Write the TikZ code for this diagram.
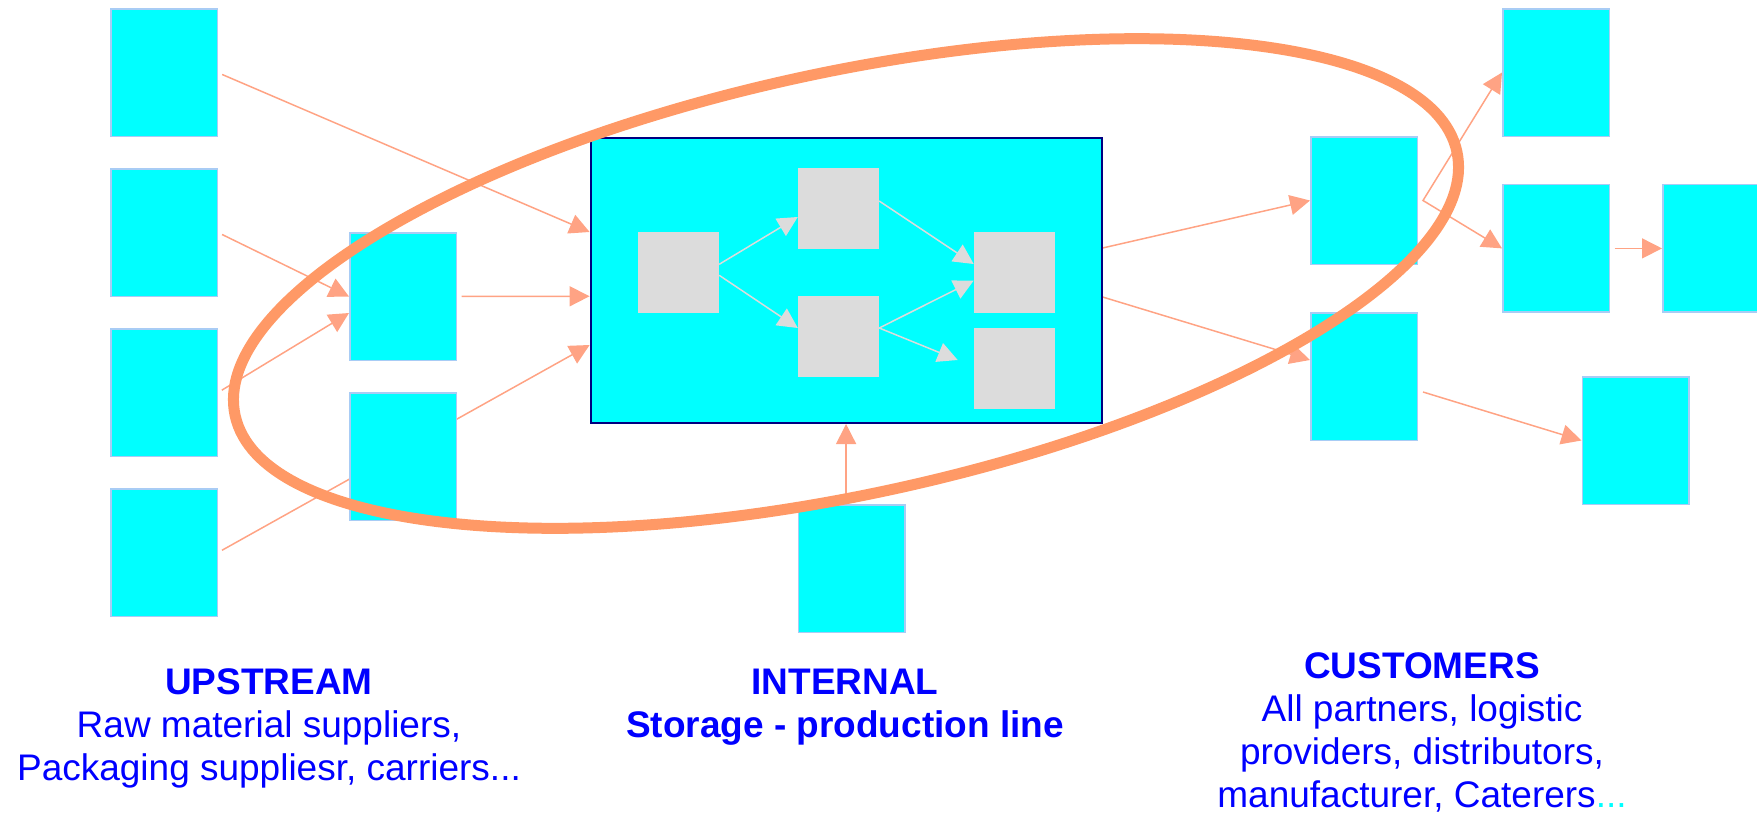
\documentclass[tikz,border=0pt]{standalone}
\usepackage{fontspec}
\setmainfont{Liberation Sans}
\usetikzlibrary{arrows.meta,calc}
\pgfdeclarelayer{bg}
\pgfsetlayers{bg,main}

\definecolor{aqua}{HTML}{00FFFF}
\definecolor{aquaedge}{HTML}{A8CCF5}
\definecolor{frame}{HTML}{000080}
\definecolor{stage}{HTML}{DCDCDC}
\definecolor{flowline}{HTML}{FFA384}
\definecolor{ringcol}{HTML}{FF9966}
\definecolor{txtblue}{HTML}{0000FF}

\tikzset{
  party/.style={rectangle, fill=aqua, draw=aquaedge, line width=1.5pt,
    minimum width=106.5pt, minimum height=127.5pt, inner sep=0pt},
  plant/.style={rectangle, fill=aqua, draw=frame, line width=2pt,
    minimum width=511pt, minimum height=285.5pt, inner sep=0pt},
  stagebox/.style={rectangle, fill=stage, minimum width=81pt,
    minimum height=81pt, inner sep=0pt},
  flow/.style={draw=flowline, line width=1.5pt,
    -{Triangle[length=20pt,width=20pt]}},
  gapstart/.style={shorten <=4.5pt},
  inner/.style={draw=stage, line width=1.5pt,
    -{Triangle[length=20pt,width=20pt]}},
  ring/.style={draw=ringcol, line width=11pt},
  caption/.style={text=txtblue, align=center, inner sep=0pt,
    font=\fontsize{37}{43}\selectfont},
}

\begin{document}
\begin{tikzpicture}[x=1pt,y=-1pt]
\clip (0,0) rectangle (1757,814);

% upstream suppliers
\node[party] (L1) at (164,72.7) {};
\node[party] (L2) at (164,232.5) {};
\node[party] (L3) at (164,392.5) {};
\node[party] (L4) at (164,552.5) {};
\node[party] (M1) at (403,296.5) {};
\node[party] (M2) at (403,456.5) {};

% internal plant with its production stages
\node[plant] (plant) at (846.1,280.25) {};
\node[stagebox] (G1) at (678.5,272.3) {};
\node[stagebox] (G2) at (838.5,208.3) {};
\node[stagebox] (G3) at (838.5,336.3) {};
\node[stagebox] (G4) at (1014.4,272.3) {};
\node[stagebox] (G5) at (1014.4,368.3) {};
\coordinate (gtip) at (957.7,360);
\node[party] (B) at (851.7,568.7) {};

% customers
\node[party] (R1) at (1364,200.5) {};
\node[party] (R2) at (1364,376.5) {};
\node[party] (F1) at (1556,72.5) {};
\node[party] (F2) at (1556,248.4) {};
\node[party] (F3) at (1716,248.4) {};
\node[party] (F4) at (1635.5,440.5) {};

% material flows
\begin{pgfonlayer}{bg}
\draw[flow,gapstart] (L1.east) -- ([yshift=48.25pt]plant.west);
\draw[flow,gapstart] (L2.east) -- (M1.west);
\draw[flow,gapstart] (L3.east) -- ([yshift=-16.5pt]M1.west);
\draw[flow,gapstart] (M1.east) -- ([yshift=-16pt]plant.west);
\draw[flow,gapstart] (L4.east) -- ([yshift=-64.75pt]plant.west);
\draw[flow] (B.north -| plant.south) -- (plant.south);
\draw[flow] ([yshift=32.25pt]plant.east) -- (R1.west);
\draw[flow] ([yshift=-16.75pt]plant.east) -- ([yshift=16.5pt]R2.west);
\draw[flow,{Triangle[length=20pt,width=20pt]}-{Triangle[length=20pt,width=20pt]}]
  (F1.west) -- ([xshift=5pt]R1.east) -- (F2.west);
\draw[flow,gapstart] (F2.east) -- (F3.west);
\draw[flow] ([xshift=5pt,yshift=-15.5pt]R2.east) -- (F4.west);
\end{pgfonlayer}

% flows between production stages
\draw[inner] ([yshift=8pt]G1.east) -- ([yshift=-8.7pt]G2.west);
\draw[inner] ([yshift=-3pt]G1.east) -- ([yshift=8.3pt]G3.west);
\draw[inner] ([yshift=7.3pt]G2.east) -- ([yshift=8.3pt]G4.west);
\draw[inner] ([yshift=8.3pt]G3.east) -- ([yshift=-8.3pt]G4.west);
\draw[inner] ([yshift=8.3pt]G3.east) -- (gtip);

% scope of the supply chain
\draw[ring, rotate around={12.18:(846,283.5)}] (846,283.5) ellipse [x radius=625, y radius=211];

% captions (anchored at the baseline of their last line)
\node[caption, anchor=base] (up) at (269,780)
  {\textbf{UPSTREAM}\\Raw material suppliers,\\Packaging suppliesr, carriers...};
\node[caption, anchor=base] (in) at (845,737)
  {\textbf{INTERNAL}\\\textbf{Storage - production line}};
\node[caption, anchor=base] (cu) at (1422,807)
  {\textbf{CUSTOMERS}\\All partners, logistic\\providers, distributors,\\manufacturer, Caterers\textcolor{aqua}{...}};
\end{tikzpicture}
\end{document}
